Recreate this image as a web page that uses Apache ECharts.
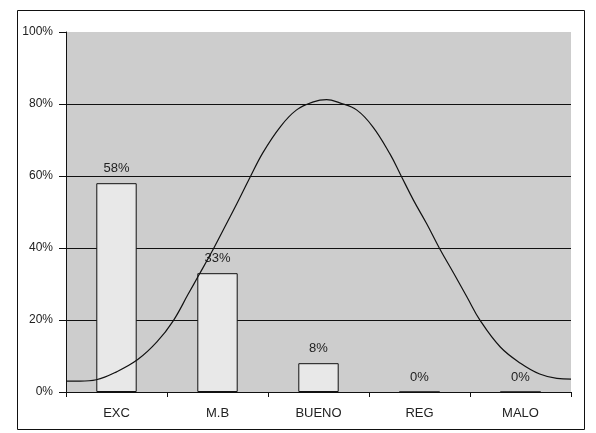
<!DOCTYPE html>
<html><head><meta charset="utf-8">
<script src="https://cdn.jsdelivr.net/npm/echarts@6/dist/echarts.min.js"></script>
<style>html,body{margin:0;padding:0;background:#fff}#c{width:596px;height:433px}</style>
</head><body><div id="c"></div>
<script>
const categories = ['EXC', 'M.B', 'BUENO', 'REG', 'MALO'];
const barValues = [58, 33, 8, 0, 0];
const yTicks = [0, 20, 40, 60, 80, 100];
// curve points: [position in category units, percent]
const curveX = [0, 0.14, 0.30, 0.50, 0.71, 0.90, 1.06, 1.21, 1.31, 1.46, 1.59, 1.69, 1.82, 1.95, 2.12, 2.28, 2.45, 2.58, 2.71, 2.88, 3.04, 3.21, 3.31, 3.44, 3.57, 3.70, 3.84, 3.97, 4.10, 4.30, 4.50, 4.69, 4.86, 5.0];
const curveY = [3.0, 3.0, 3.4, 5.6, 9.0, 13.9, 19.7, 27.2, 32.2, 39.8, 46.8, 52.2, 59.5, 66.5, 73.6, 78.3, 80.6, 81.2, 80.3, 78.3, 73.6, 66.0, 60.5, 53.3, 46.8, 39.8, 32.9, 26.4, 19.9, 12.5, 8.0, 5.0, 3.8, 3.6];

const chart = echarts.init(document.getElementById('c'));
chart.setOption({
  animation: false,
  backgroundColor: '#ffffff',
  textStyle: { fontFamily: 'Liberation Sans, Arial, sans-serif' },
  graphic: [{
    type: 'rect', left: 15, top: 8, shape: { width: 567, height: 419 },
    style: { fill: 'none', stroke: '#111', lineWidth: 1 }, silent: true
  }],
  grid: { left: 66, right: 25, top: 32, bottom: 41, show: true, backgroundColor: '#cdcdcd', borderWidth: 0 },
  xAxis: [{
    type: 'category', data: categories,
    axisLine: { lineStyle: { color: '#111', width: 1 } },
    axisTick: { show: true, length: 5, alignWithLabel: false, lineStyle: { color: '#111' } },
    axisLabel: { color: '#222', fontSize: 13, margin: 15 }
  }, {
    type: 'value', min: 0, max: 5, show: false
  }],
  yAxis: {
    type: 'value', min: yTicks[0], max: yTicks[yTicks.length - 1], interval: 20,
    axisLine: { show: true, lineStyle: { color: '#111', width: 1 } },
    axisTick: { show: true, length: 7, lineStyle: { color: '#111' } },
    axisLabel: { color: '#222', fontSize: 12, margin: 13, formatter: v => v + '%' },
    splitLine: { show: true, showMaxLine: false, lineStyle: { color: '#111', width: 1 } }
  },
  series: [{
    type: 'bar', data: barValues, barWidth: '40%', xAxisIndex: 0,
    itemStyle: { color: '#e8e8e8', borderColor: '#111', borderWidth: 1 },
    label: { show: true, position: 'top', distance: 8, color: '#222', fontSize: 13, formatter: p => p.value + '%' }
  }, {
    type: 'line', xAxisIndex: 1, smooth: 0.4, showSymbol: false,
    data: curveX.map((x, i) => [x, curveY[i]]),
    lineStyle: { color: '#111', width: 1.2 }
  }]
});
</script></body></html>
